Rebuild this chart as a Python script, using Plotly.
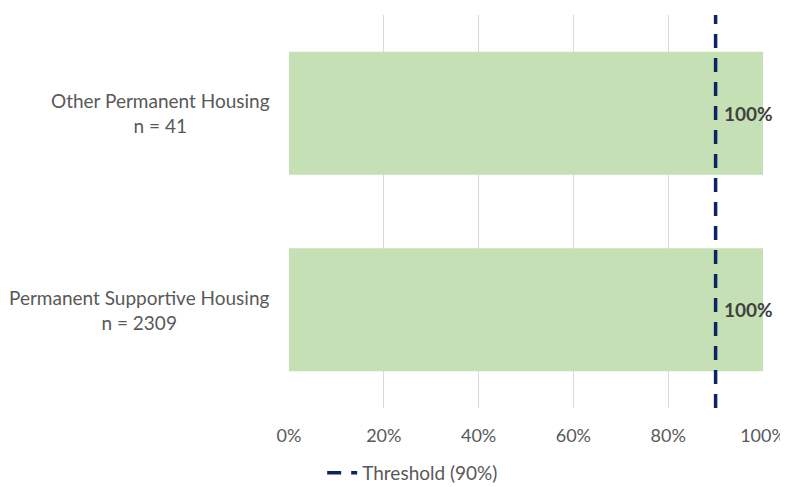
import plotly.graph_objects as go

categories = ["Permanent Supportive Housing<br>n = 2309", "Other Permanent Housing<br>n = 41"]
values = [1.0, 1.0]
value_labels = ["100%", "100%"]
threshold = 0.9
threshold_name = "Threshold (90%)"
x_ticks = [0, 0.2, 0.4, 0.6, 0.8, 1.0]
x_tick_labels = ["0%", "20%", "40%", "60%", "80%", "100%"]

font_family = "Lato, Open Sans, sans-serif"
grey = "#595959"

fig = go.Figure()
fig.add_trace(go.Bar(
    y=categories, x=values, orientation="h",
    marker=dict(color="#c5e0b4", line=dict(width=0)),
    width=0.625, showlegend=False, hoverinfo="skip",
))
fig.add_trace(go.Scatter(
    x=[threshold, threshold], y=[0, 1], yaxis="y2",
    mode="lines", name=threshold_name,
    line=dict(color="#0b2463", width=3.5, dash="14px,10px"),
))

for c, v, lab in zip(categories, values, value_labels):
    fig.add_annotation(x=threshold, y=c, text="<b>" + lab + "</b>", showarrow=False,
                       xanchor="left", xshift=6, font=dict(size=19, color="#404040", family=font_family))
    fig.add_annotation(x=0, xref="paper", y=c, text=c, showarrow=False,
                       xanchor="right", xshift=-17, align="center",
                       font=dict(size=19, color=grey, family=font_family))

fig.update_layout(
    width=780, height=479,
    margin=dict(l=281, r=25, t=7, b=79, autoexpand=False),
    paper_bgcolor="white", plot_bgcolor="white",
    font=dict(family=font_family, size=18, color=grey),
    bargap=0.375,
    xaxis=dict(range=[0, 1], tickvals=x_ticks, ticktext=x_tick_labels, automargin=False,
               showgrid=True, gridcolor="#d9d9d9", gridwidth=1, zeroline=False,
               showline=False, ticks="", ticklabelstandoff=15,
               tickfont=dict(size=18, color=grey)),
    yaxis=dict(range=[-0.5, 1.5], showgrid=False, zeroline=False, showline=False,
               ticks="", showticklabels=False, automargin=False),
    yaxis2=dict(range=[0, 1], overlaying="y", visible=False),
    legend=dict(orientation="h", x=0.07, xanchor="left", y=-0.165, yanchor="middle",
                font=dict(size=19, color=grey)),
)

fig.write_html("out.html")
